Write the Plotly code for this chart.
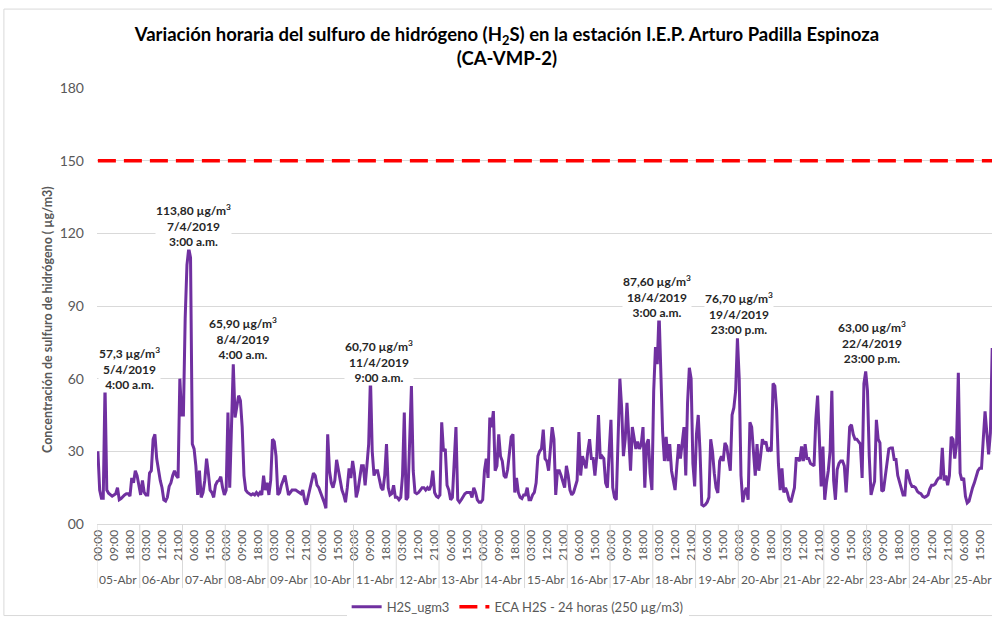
import plotly.graph_objects as go

day_labels = ["05-Abr", "06-Abr", "07-Abr", "08-Abr", "09-Abr", "10-Abr", "11-Abr",
              "12-Abr", "13-Abr", "14-Abr", "15-Abr", "16-Abr", "17-Abr", "18-Abr",
              "19-Abr", "20-Abr", "21-Abr", "22-Abr", "23-Abr", "24-Abr", "25-Abr"]
hour_labels = ["00:00", "01:00", "02:00", "03:00", "04:00", "05:00", "06:00", "07:00",
               "08:00", "09:00", "10:00", "11:00", "12:00", "13:00", "14:00", "15:00",
               "16:00", "17:00", "18:00", "19:00", "20:00", "21:00", "22:00", "23:00"]

d05 = [30, 14, 10.6, 10.6, 57.3, 14, 12.7, 12, 11.5, 12, 12.5, 15, 10, 10.5, 11.5, 12, 12.5, 12.5, 11.5, 19, 17, 22, 20, 15]
d06 = [12, 18, 13, 12, 12, 21, 22, 35, 37, 27, 22, 18, 15, 10, 9.5, 11, 15.5, 17, 20, 22, 20, 19, 60, 45]
d07 = [45, 85, 107, 113.8, 110, 33, 31, 24, 12, 22, 11, 13, 18, 27, 21, 14, 13, 11, 16, 17.5, 18, 19.5, 15, 12]
d08 = [14, 46, 15, 40, 65.9, 44, 48, 53, 51, 40, 20, 14, 13, 12.5, 12, 12.5, 12, 13, 12, 13, 12, 20, 14, 17]
d09 = [12, 18, 35, 34, 28, 12, 13, 16, 18, 20, 16, 12, 13, 14, 14, 14, 13.5, 13, 12.5, 14, 10, 8, 11, 14]
d10 = [17, 21, 20, 16, 15, 13, 11.5, 9, 6.5, 37, 22, 17, 15, 18, 26.5, 22, 18, 14, 12, 9, 15, 23, 19, 26]
d11 = [21, 11, 14, 20, 24, 24, 16, 24, 33, 60.7, 30, 20, 22, 22, 18, 15, 14, 20, 33, 15, 12, 12.5, 16, 11]
d12 = [11, 10, 11, 20, 46, 10, 11, 35, 57, 22, 13, 12.5, 13, 14, 15, 15, 14, 15, 14, 16, 22, 13, 11.5, 11]
d13 = [12, 42, 30, 31, 16, 14, 10, 11, 25, 40, 10, 9, 10, 11.5, 12.5, 13, 13, 13, 11, 15, 13, 10, 9, 9]
d14 = [10, 22, 27, 19, 44, 40, 46.6, 22, 24, 37, 28, 26, 20, 19, 22.5, 30, 36, 37, 13, 19, 13, 11, 10.5, 12]
d15 = [12, 15, 10, 10, 12, 13, 17, 28, 30, 31, 39, 27, 26, 22, 32, 40, 35, 12, 22, 22, 20, 17, 15, 24]
d16 = [20, 14, 12, 13, 16, 18, 38, 20, 28, 25, 23, 30, 35, 27, 27, 20, 28, 45, 27, 28, 27, 17, 15, 30]
d17 = [43, 15, 11, 10, 35, 60, 48, 28, 35, 50, 36, 22, 40, 36, 31, 34, 31, 33, 40, 15, 33, 35, 21, 14]
d18 = [55, 73, 66, 87.6, 61, 38, 26, 36, 26, 33, 22, 18, 14, 24, 33, 27, 33, 40, 20, 50, 64.5, 60, 25, 15.5]
d19 = [37, 45, 30, 8, 7.5, 8, 9, 11, 35, 30, 21, 15, 12.8, 26, 28, 26, 33.5, 32, 27, 22, 45, 48, 55, 76.7]
d20 = [60, 20, 9, 13, 15, 10, 42, 40, 30, 20, 33, 22, 28, 35, 33, 34, 30, 31, 30, 58, 57, 47, 25, 14]
d21 = [23, 13, 15, 13, 10, 9, 12, 15, 27, 27, 26, 32, 26, 33, 27, 27, 25, 24.5, 24, 43, 53, 35, 15.5, 32]
d22 = [10, 17, 22, 30, 55, 18, 10, 22.5, 25, 26, 26, 24, 13, 25, 40, 41, 37, 35, 35, 34, 33, 19, 58, 63]
d23 = [55, 28, 12, 15, 17.6, 43, 35, 33.5, 13.5, 14, 20, 27, 31, 31.4, 31.4, 26.6, 26.6, 20, 17, 14, 12, 12, 22.5, 20]
d24 = [17, 15.5, 15.5, 15, 13.5, 12.8, 12.5, 11.4, 11, 11.4, 12, 14.5, 16, 16, 16.5, 18, 19, 19, 31.4, 18, 20, 16, 20, 36]
d25 = [35, 27, 33, 62.4, 21, 18, 19, 11.4, 8.7, 9.4, 12.8, 15, 17, 20, 22, 23, 23, 35, 46.5, 37.6, 28.7, 37.6, 72, 72]

days = [d05, d06, d07, d08, d09, d10, d11, d12, d13, d14, d15, d16, d17, d18,
        d19, d20, d21, d22, d23, d24, d25]
h2s = [v for d in days for v in d]
eca_value = 150
n = len(h2s)
x = list(range(n))
eca = [eca_value] * n

y_ticks = [0, 30, 60, 90, 120, 150, 180]
y_ticktext = ["00", "30", "60", "90", "120", "150", "180"]

peak_idx = [4, 51, 76, 153, 315, 359, 431]
peak_text = ["57,3 µg/m<sup>3</sup><br>5/4/2019<br>4:00 a.m.",
             "113,80 µg/m<sup>3</sup><br>7/4/2019<br>3:00 a.m.",
             "65,90 µg/m<sup>3</sup><br>8/4/2019<br>4:00 a.m.",
             "60,70 µg/m<sup>3</sup><br>11/4/2019<br>9:00 a.m.",
             "87,60 µg/m<sup>3</sup><br>18/4/2019<br>3:00 a.m.",
             "76,70 µg/m<sup>3</sup><br>19/4/2019<br>23:00 p.m.",
             "63,00 µg/m<sup>3</sup><br>22/4/2019<br>23:00 p.m."]
peak_shift = [(24, 17), (5, 23), (10, 26), (9, 15), (-2, 15), (2, 25), (6, 29)]

FONT = "Lato, Roboto, sans-serif"
GREY = "#595959"
GRID = "#d9d9d9"

fig = go.Figure()
fig.add_trace(go.Scatter(x=x, y=h2s, mode="lines", name="H2S_ugm3",
                         line=dict(color="#7030A0", width=3)))
fig.add_trace(go.Scatter(x=x, y=eca, mode="lines", name="ECA H2S - 24 horas (250 µg/m3)",
                         line=dict(color="#FF0000", width=3.5, dash="18px,8px")))

tickvals = list(range(0, n, 9))
ticktext = [hour_labels[v % 24] for v in tickvals]

annotations = []
for i, (idx, txt) in enumerate(zip(peak_idx, peak_text)):
    dx, dy = peak_shift[i]
    annotations.append(dict(x=idx, y=h2s[idx], xref="x", yref="y", text="<b>" + txt + "</b>",
                            showarrow=False, xshift=dx, yshift=dy, bgcolor="white",
                            borderpad=0, font=dict(size=12, color="#262626", family=FONT),
                            align="center"))
for d, lab in enumerate(day_labels):
    annotations.append(dict(x=d * 24 + 11.5, y=-0.128, xref="x", yref="paper", text=lab,
                            yanchor="middle", xanchor="center", showarrow=False,
                            font=dict(size=12, color=GREY, family=FONT)))
annotations.append(dict(x=-0.056, y=0.47, xref="paper", yref="paper", textangle=-90,
                        xanchor="center", yanchor="middle",
                        text="<b>Concentración de sulfuro de hidrógeno ( µg/m3)</b>",
                        showarrow=False, font=dict(size=12.5, color=GREY, family=FONT)))

shapes = []
for d in range(len(day_labels) + 1):
    shapes.append(dict(type="line", xref="x", yref="paper", x0=d * 24 - 0.5, x1=d * 24 - 0.5,
                       y0=0, y1=-0.147, line=dict(color=GRID, width=1)))
shapes.append(dict(type="rect", xref="paper", yref="paper", x0=-0.104, x1=1.02,
                   y0=-0.21, y1=1.181, line=dict(color=GRID, width=1)))

fig.update_layout(
    width=992, height=622,
    margin=dict(l=97, r=0, t=88, b=98),
    paper_bgcolor="white", plot_bgcolor="white",
    font=dict(family=FONT, color=GREY),
    title=dict(text="<b>Variación horaria del sulfuro de hidrógeno (H<sub>2</sub>S) en la estación I.E.P. Arturo Padilla Espinoza<br>(CA-VMP-2)</b>",
               x=0.511, xref="container", xanchor="center", y=0.934, yref="container", yanchor="top",
               font=dict(size=18.5, color="#000000", family=FONT)),
    xaxis=dict(range=[-0.5, 501.9], tickvals=tickvals, ticktext=ticktext, tickangle=-90,
               tickfont=dict(size=12, color=GREY, family=FONT), showgrid=False,
               showline=True, linecolor=GRID, ticks="", zeroline=False),
    yaxis=dict(range=[0, 180], tickvals=y_ticks, ticktext=y_ticktext, ticklabelstandoff=12,
               tickfont=dict(size=14, color=GREY, family=FONT), showgrid=True, gridcolor=GRID,
               gridwidth=1, zeroline=False, ticks="", showline=False),
    legend=dict(orientation="h", x=0.47, xanchor="center", y=-0.19, yanchor="middle",
                font=dict(size=13, color=GREY, family=FONT), traceorder="normal"),
    annotations=annotations,
    shapes=shapes,
)

fig.write_html("out.html", config={"displayModeBar": False},
               post_script="document.body.style.margin='0';document.body.style.overflow='hidden';")
